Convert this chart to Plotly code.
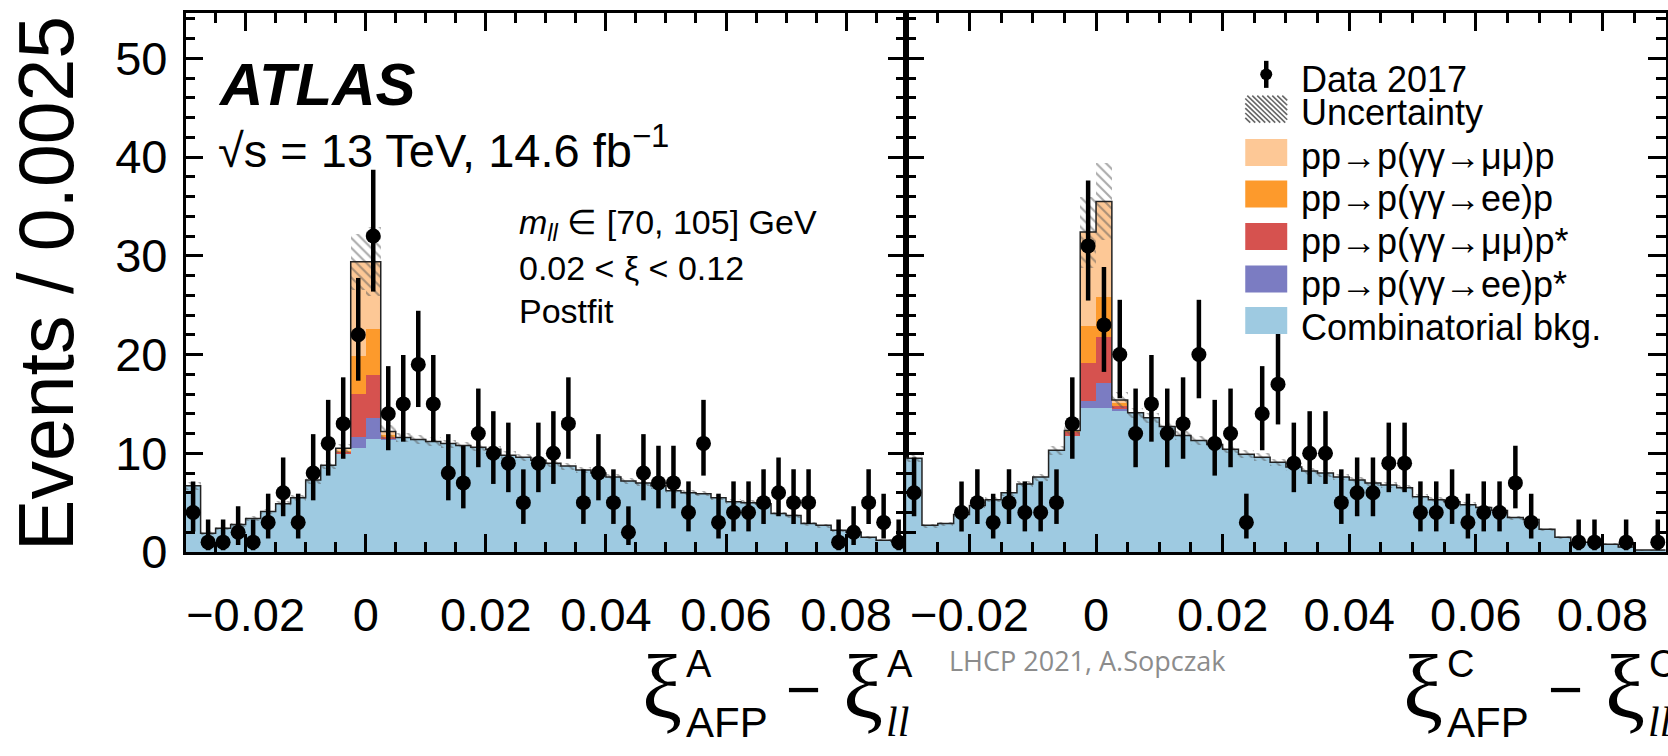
import numpy as np
import plotly.graph_objects as go

W, H = 1668, 756

# ---------------- binning ----------------
bin_lo, bin_hi, bin_w = -0.03, 0.09, 0.0025
first_bin = -12  # index of first bin (relative to the bin starting at 0)

# ---------------- data (bins k = -12 ... 35) ----------------
data_A = [4, 1, 1, 2, 1, 3, 6, 3, 8, 11, 13, 22,
          32, 14, 15, 19, 15, 8, 7, 12, 10, 9, 5, 9,
          10, 13, 5, 8, 5, 2, 8, 7, 7, 4, 11, 3,
          4, 4, 5, 6, 5, 5, 0, 1, 2, 5, 3, 1]
data_C = [6, 0, 0, 4, 5, 3, 5, 4, 4, 5, 13, 31,
          23, 20, 12, 15, 12, 13, 20, 11, 12, 3, 14, 17,
          9, 10, 10, 5, 6, 6, 9, 9, 4, 4, 5, 3,
          4, 4, 7, 3, 0, 0, 1, 1, 0, 1, 0, 1]

bkg_A = [6.7, 1.9, 2.4, 2.8, 3.4, 4.1, 4.9, 5.5, 7.3, 8.8, 10.0, 10.6,
         11.5, 11.4, 11.6, 11.4, 11.2, 11.0, 10.8, 10.6, 10.4, 9.8, 9.6, 9.3,
         9.0, 8.7, 8.3, 8.0, 7.6, 7.2, 7.0, 6.7, 6.2, 6.0, 5.9, 5.5,
         5.1, 5.0, 4.9, 3.9, 3.7, 2.9, 2.7, 2.2, 2.0, 1.5, 1.2, 1.1]
bkg_C = [9.5, 2.7, 2.9, 3.8, 4.7, 5.3, 6.0, 6.9, 7.6, 10.3, 11.8, 14.6,
         14.6, 14.3, 14.1, 13.6, 12.7, 11.8, 11.3, 10.9, 10.4, 9.9, 9.6, 9.1,
         8.6, 8.2, 8.0, 7.6, 7.3, 7.0, 6.8, 6.5, 5.6, 5.3, 5.1, 4.8,
         4.5, 4.2, 3.5, 3.3, 2.3, 1.5, 1.0, 1.0, 0.8, 0.5, 0.2, 0.2]

# signal components only in bins around zero
sig_bins = [-2, -1, 0, 1]
ee_pstar_A = [0.0, 1.1, 2.1, 0.1]
mm_pstar_A = [0.2, 4.3, 4.3, 0.2]
ee_p_A = [0.1, 3.9, 4.7, 0.2]
mm_p_A = [0.2, 9.5, 6.8, 0.3]
ee_pstar_C = [0.0, 0.7, 2.5, 0.3]
mm_pstar_C = [0.4, 3.9, 4.7, 0.2]
ee_p_C = [0.1, 3.7, 4.0, 0.3]
mm_p_C = [0.0, 9.5, 9.7, 0.3]

unc_A = [0.4, 0.2, 0.2, 0.2, 0.25, 0.25, 0.3, 0.3, 0.35, 0.4, 0.5, 2.8,
         3.5, 0.7, 0.45, 0.45, 0.45, 0.4, 0.4, 0.4, 0.4, 0.4, 0.35, 0.35,
         0.35, 0.35, 0.3, 0.3, 0.3, 0.3, 0.3, 0.3, 0.25, 0.25, 0.25, 0.25,
         0.25, 0.25, 0.25, 0.2, 0.2, 0.2, 0.2, 0.15, 0.15, 0.15, 0.1, 0.1]
unc_C = [0.4, 0.2, 0.2, 0.2, 0.25, 0.25, 0.3, 0.3, 0.35, 0.45, 0.6, 3.6,
         3.9, 0.8, 0.5, 0.5, 0.45, 0.45, 0.45, 0.4, 0.4, 0.4, 0.4, 0.35,
         0.35, 0.35, 0.35, 0.3, 0.3, 0.3, 0.3, 0.3, 0.25, 0.25, 0.25, 0.25,
         0.2, 0.2, 0.2, 0.2, 0.15, 0.15, 0.1, 0.1, 0.1, 0.1, 0.05, 0.05]

x_ticks = [-0.02, 0, 0.02, 0.04, 0.06, 0.08]
x_ticktext = ["−0.02", "0", "0.02", "0.04", "0.06", "0.08"]
y_ticks = [0, 10, 20, 30, 40, 50]

legend_labels = ["Data 2017", "Uncertainty", "pp→p(γγ→μμ)p", "pp→p(γγ→ee)p",
                 "pp→p(γγ→μμ)p*", "pp→p(γγ→ee)p*", "Combinatorial bkg."]

# ---------------- styling ----------------
C_BKG = "#9ecae1"
C_EEPS = "#7b7cc2"
C_MMPS = "#d6524f"
C_EEP = "#fd9a2c"
C_MMP = "#fdc896"
FONT = "Liberation Sans, Arial, Helvetica, sans-serif"
SERIF = "Liberation Serif, DejaVu Serif, serif"

edges = np.round(np.arange(bin_lo, bin_hi + bin_w / 2, bin_w), 6)
centers = edges[:-1] + bin_w / 2
nb = len(centers)


def expand(vals):
    arr = np.zeros(nb)
    for b, v in zip(sig_bins, vals):
        arr[b - first_bin] = v
    return arr


def poisson_errors(n):
    n = np.asarray(n, float)

    def chi2q(z, k):
        h = 2.0 / (9.0 * k)
        return k * (1 - h + z * np.sqrt(h)) ** 3

    lo = np.where(n > 0, chi2q(-1.0, np.maximum(2 * n, 1e-9)) / 2, 0.0)
    up = chi2q(1.0, 2 * n + 2) / 2
    return n - lo, up - n


fig = go.Figure()


def add_panel(xa, ya, data, bkg, comps, unc):
    bkg = np.array(bkg, float)
    base = bkg.copy()
    fig.add_trace(go.Bar(x=centers, y=bkg, width=bin_w, marker=dict(color=C_BKG, line=dict(width=0)),
                         xaxis=xa, yaxis=ya, showlegend=False, hoverinfo="skip"))
    for vals, col in comps:
        v = expand(vals)
        fig.add_trace(go.Bar(x=centers, y=v, base=base, width=bin_w,
                             marker=dict(color=col, line=dict(width=0)),
                             xaxis=xa, yaxis=ya, showlegend=False, hoverinfo="skip"))
        base = base + v
    total = base
    unc = np.array(unc, float)
    fig.add_trace(go.Bar(x=centers, y=2 * unc, base=total - unc, width=bin_w,
                         marker=dict(color="rgba(0,0,0,0)", line=dict(width=0),
                                     pattern=dict(shape="\\", fgcolor="#555555", bgcolor="rgba(0,0,0,0)",
                                                  size=7, solidity=0.3)),
                         xaxis=xa, yaxis=ya, showlegend=False, hoverinfo="skip"))
    # outline of total
    fig.add_trace(go.Scatter(x=list(edges), y=list(total) + [total[-1]], mode="lines",
                             line=dict(color="#222222", width=1.5, shape="hv"),
                             xaxis=xa, yaxis=ya, showlegend=False, hoverinfo="skip"))
    n = np.array(data, float)
    lo, up = poisson_errors(n)
    m = n > 0
    fig.add_trace(go.Scatter(x=centers[m], y=n[m], mode="markers",
                             marker=dict(size=15, color="black"),
                             error_y=dict(type="data", symmetric=False, array=up[m], arrayminus=lo[m],
                                          thickness=4.5, width=0, color="black"),
                             xaxis=xa, yaxis=ya, showlegend=False, hoverinfo="skip"))


add_panel("x", "y", data_A, bkg_A,
          [(ee_pstar_A, C_EEPS), (mm_pstar_A, C_MMPS), (ee_p_A, C_EEP), (mm_p_A, C_MMP)], unc_A)
add_panel("x2", "y2", data_C, bkg_C,
          [(ee_pstar_C, C_EEPS), (mm_pstar_C, C_MMPS), (ee_p_C, C_EEP), (mm_p_C, C_MMP)], unc_C)


def px(x):
    return x / W


def py(y):
    return 1 - y / H


x_left0, x_mid, x_right1 = 185.7, 906.7, 1666.7
y_bot, y_top = 571.7, 13.3

axis_common = dict(showline=True, linecolor="black", linewidth=2.5, mirror="ticks",
                   ticks="inside", ticklen=18, tickwidth=2.5, tickcolor="black",
                   showgrid=False, zeroline=False,
                   tickfont=dict(family=FONT, size=47, color="black"))

xcommon = dict(axis_common, range=[bin_lo, bin_hi], tickmode="array", tickvals=x_ticks,
               ticktext=x_ticktext,
               minor=dict(ticks="inside", ticklen=10, tickwidth=2.5, tickcolor="black",
                          tick0=0, dtick=0.005, showgrid=False),
               ticklabelstandoff=20)
ycommon = dict(axis_common, range=[0, 54.6], tickmode="array", tickvals=y_ticks,
               minor=dict(ticks="inside", ticklen=10, tickwidth=2.5, tickcolor="black",
                          tick0=0, dtick=2, showgrid=False),
               ticklabelstandoff=6)

fig.update_layout(
    width=W, height=H, autosize=False,
    margin=dict(l=0, r=0, t=0, b=0),
    paper_bgcolor="white", plot_bgcolor="rgba(0,0,0,0)",
    barmode="overlay", bargap=0,
    xaxis=dict(xcommon, domain=[px(x_left0), px(x_mid)], anchor="y"),
    xaxis2=dict(xcommon, domain=[px(x_mid), px(x_right1)], anchor="y2"),
    yaxis=dict(ycommon, domain=[py(y_bot), py(y_top)], anchor="x"),
    yaxis2=dict(ycommon, domain=[py(y_bot), py(y_top)], anchor="x2", matches="y", showticklabels=False),
    showlegend=False,
)

ann = []


def text(x, y, s, size, xanchor="left", yanchor="middle", color="black", family=FONT, angle=0):
    ann.append(dict(x=px(x), y=py(y), xref="paper", yref="paper", text=s, showarrow=False,
                    xanchor=xanchor, yanchor=yanchor, textangle=angle,
                    font=dict(family=family, size=size, color=color)))


# y-axis title
text(46, 293, "Events / 0.0025", 77, xanchor="center", angle=-90)

# ATLAS labels
text(216, 87, "<b><i>ATLAS</i></b>", 60)
text(216, 152, "√s = 13 TeV, 14.6 fb<sup>−1</sup>", 47)
text(517, 233, "<i>m</i><sub><i>ll</i></sub> ∈ [70, 105] GeV", 34)
text(517, 278, "0.02 < ξ < 0.12", 34)
text(517, 322, "Postfit", 34)

# x-axis titles (stacked super/subscripts)
for dx, letter in [(0, "A"), (762, "C")]:
    text(662 + dx, 712, "ξ", 90, xanchor="center", family=SERIF)
    text(699 + dx, 688, letter, 38, xanchor="center")
    text(727 + dx, 748, "AFP", 42, xanchor="center")
    text(804 + dx, 714, "−", 60, xanchor="center")
    text(864 + dx, 712, "ξ", 90, xanchor="center", family=SERIF)
    text(901 + dx, 688, letter, 38, xanchor="center")
    text(898 + dx, 748, "<i>ll</i>", 42, xanchor="center", family=SERIF)

text(1088, 684, "LHCP 2021, A.Sopczak", 27, xanchor="center", color="#8c8c8c",
     family="Open Sans, Liberation Sans, sans-serif")

# ---------------- manual legend ----------------
shapes = []
sw_y = [72, 113, 158, 201, 245, 289, 332]
txt_y = [82, 117, 162, 206, 250, 295, 339]
sw_x0, sw_x1, sw_h = 1246, 1288, 28
for lab, yy in zip(legend_labels, txt_y):
    text(1300, yy, lab, 36)

# data marker
shapes.append(dict(type="line", xref="paper", yref="paper", x0=px(1267), x1=px(1267),
                   y0=py(63), y1=py(91), line=dict(color="black", width=4.5)))
shapes.append(dict(type="circle", xref="paper", yref="paper", x0=px(1261), x1=px(1273),
                   y0=py(71), y1=py(83), fillcolor="black", line=dict(width=0)))

# hatch swatch
hy0 = sw_y[1] - sw_h / 2
wdt = sw_x1 - sw_x0
for c in range(-sw_h, wdt + 1, 5):
    u0, u1 = max(0, c), min(wdt, sw_h + c)
    if u1 - u0 > 0.5:
        shapes.append(dict(type="line", xref="paper", yref="paper",
                           x0=px(sw_x0 + u0), y0=py(hy0 + u0 - c),
                           x1=px(sw_x0 + u1), y1=py(hy0 + u1 - c),
                           line=dict(color="#666666", width=1.6)))

for col, yy in zip([C_MMP, C_EEP, C_MMPS, C_EEPS, C_BKG], sw_y[2:]):
    shapes.append(dict(type="rect", xref="paper", yref="paper", x0=px(sw_x0), x1=px(sw_x1),
                       y0=py(yy - sw_h / 2), y1=py(yy + sw_h / 2), fillcolor=col, line=dict(width=0)))

fig.update_layout(annotations=ann, shapes=shapes)
fig.write_html("out.html")
